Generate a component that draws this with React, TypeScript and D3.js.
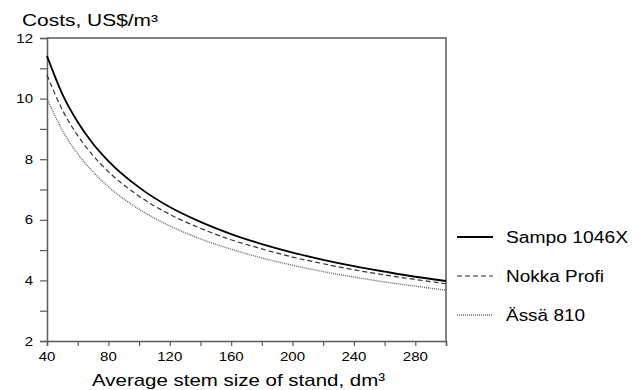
import { useEffect, useRef } from "react";
import * as d3 from "d3";

const stemSizes = [40, 50, 60, 70, 80, 100, 120, 140, 160, 180, 200, 220, 240, 260, 280, 300];
const sampo = [11.41, 10.15, 9.23, 8.51, 7.94, 7.07, 6.42, 5.93, 5.53, 5.2, 4.92, 4.68, 4.47, 4.29, 4.12, 3.98];
const nokka = [10.78, 9.63, 8.78, 8.12, 7.59, 6.78, 6.18, 5.72, 5.34, 5.04, 4.77, 4.55, 4.35, 4.18, 4.03, 3.89];
const assa = [10.0, 8.95, 8.18, 7.58, 7.09, 6.35, 5.8, 5.37, 5.03, 4.74, 4.5, 4.29, 4.11, 3.95, 3.81, 3.68];

const xTicks = [40, 80, 120, 160, 200, 240, 280];
const xMinor = [60, 100, 140, 180, 220, 260, 300];
const yTicks = [2, 4, 6, 8, 10, 12];
const yMinor = [3, 5, 7, 9, 11];

const seriesNames = ["Sampo 1046X", "Nokka Profi", "Ässä 810"];

function App() {
    const ref = useRef<SVGSVGElement>(null);

    useEffect(() => {
        const width = 639, height = 390;
        const margin = { top: 38, right: 193, bottom: 49, left: 47 };
        const font = "Liberation Sans, Arial, sans-serif";
        const axisColor = "#5a5a5a";

        const svg = d3.select(ref.current);
        svg.selectAll("*").remove();
        svg.attr("width", width).attr("height", height);

        const x = d3.scaleLinear().domain([40, 300]).range([margin.left, width - margin.right]);
        const y = d3.scaleLinear().domain([2, 12]).range([height - margin.bottom, margin.top]);

        const series = [
            { name: seriesNames[0], values: sampo, stroke: "#000", width: 1.8, dash: null, len: 122 },
            { name: seriesNames[1], values: nokka, stroke: "#333", width: 1.2, dash: "5,3", len: 98 },
            { name: seriesNames[2], values: assa, stroke: "#666", width: 1.4, dash: "1,1", len: 79 },
        ];

        // frame: top and right
        svg.append("path")
            .attr("d", `M${x(40)},${y(12)}H${x(300)}V${y(2)}`)
            .attr("fill", "none")
            .attr("stroke", axisColor)
            .attr("stroke-width", 1.5);

        // x axis
        const xAxis = svg.append("g").attr("transform", `translate(0,${y(2)})`);
        xAxis.call(d3.axisBottom(x).tickValues([...xTicks, ...xMinor]).tickSize(5).tickFormat(() => ""));
        xAxis.select(".domain").attr("stroke", axisColor).attr("stroke-width", 1.5);
        xAxis.selectAll("line").attr("stroke", axisColor).attr("stroke-width", 1.2);
        xAxis.selectAll("text").remove();
        svg.append("g").selectAll("text")
            .data(xTicks)
            .enter()
            .append("text")
            .attr("transform", d => `translate(${x(d)},${y(2) + 19.5}) scale(1.2,1)`)
            .attr("text-anchor", "middle")
            .style("font-family", font)
            .style("font-size", "12.5px")
            .text(d => d);

        // y axis
        const yAxis = svg.append("g").attr("transform", `translate(${x(40)},0)`);
        yAxis.call(d3.axisLeft(y).tickValues([...yTicks, ...yMinor]).tickSize(7).tickFormat(() => ""));
        yAxis.select(".domain").attr("stroke", axisColor).attr("stroke-width", 1.5);
        yAxis.selectAll("line").attr("stroke", axisColor).attr("stroke-width", 1.2);
        yAxis.selectAll("text").remove();
        svg.append("g").selectAll("text")
            .data(yTicks)
            .enter()
            .append("text")
            .attr("transform", d => `translate(${x(40) - 14},${y(d) + 4.5}) scale(1.2,1)`)
            .attr("text-anchor", "end")
            .style("font-family", font)
            .style("font-size", "12.5px")
            .text(d => d);

        // titles
        svg.append("text")
            .attr("x", 22)
            .attr("y", 26)
            .attr("textLength", 136)
            .attr("lengthAdjust", "spacingAndGlyphs")
            .style("font-family", font)
            .style("font-size", "16px")
            .text("Costs, US$/m³");

        svg.append("text")
            .attr("x", 92)
            .attr("y", 386)
            .attr("textLength", 293)
            .attr("lengthAdjust", "spacingAndGlyphs")
            .style("font-family", font)
            .style("font-size", "17px")
            .text("Average stem size of stand, dm³");

        // lines
        const line = d3.line<number>()
            .x((d, i) => x(stemSizes[i]))
            .y(d => y(d))
            .curve(d3.curveMonotoneX);

        svg.selectAll("myLines")
            .data(series)
            .enter()
            .append("path")
            .attr("d", d => line(d.values))
            .attr("fill", "none")
            .attr("stroke", d => d.stroke)
            .attr("stroke-width", d => d.width)
            .attr("stroke-dasharray", d => d.dash);

        // legend
        const legendY = [237, 276, 315];
        const legend = svg.selectAll("myLegend")
            .data(series)
            .enter()
            .append("g")
            .attr("transform", (d, i) => `translate(457,${legendY[i]})`);
        legend.append("line")
            .attr("x1", 0)
            .attr("x2", 36)
            .attr("stroke", d => d.stroke)
            .attr("stroke-width", d => d.width)
            .attr("stroke-dasharray", d => d.dash);
        legend.append("text")
            .attr("x", 49)
            .attr("y", 5.5)
            .attr("textLength", d => d.len)
            .attr("lengthAdjust", "spacingAndGlyphs")
            .style("font-family", font)
            .style("font-size", "16px")
            .text(d => d.name);
    }, []);

    return <svg ref={ref} style={{ position: "absolute", left: 0, top: 0 }}></svg>;
}

export default App;
